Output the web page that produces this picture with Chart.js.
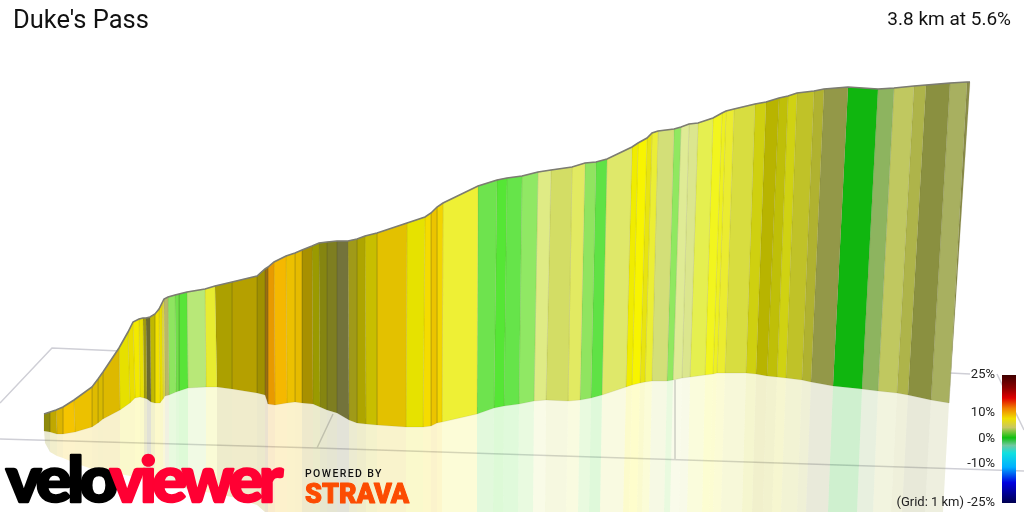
<!DOCTYPE html>
<html>
<head>
<meta charset="utf-8">
<title>Duke's Pass</title>
<script src="https://cdn.jsdelivr.net/npm/chart.js@4/dist/chart.umd.min.js"></script>
<style>
  html, body { margin: 0; padding: 0; background: #fff; overflow: hidden; }
  #wrap { width: 1024px; height: 512px; }
</style>
</head>
<body>
<div id="wrap"><canvas id="profile" width="1024" height="512"></canvas></div>
<script>
// Ribbon stations, left to right (projected plot units)
const ridgeX = [44,50,56,63,74,92,98,103,119,128,133,139,143,146,150,155,159,162,164,168,175,179,187,205,215,232,257,265,268,274,286,295,302,312,319,327,337,348,357,365,377,407,425,431,437,443,478,497,507,522,538,551,572,585,596,607,632,638,647,652,658,674,681,689,698,713,722,726,734,755,766,779,788,797,814,824,848,878,894,914,926,950,967,970];
const ridgeY = [414,412,410,407,400,387,379,372,348,332,322,319,318,318,317,314,309,303,299,297,295,294,292,289,286,282,276,269,267,262,256,253,250,246,243,242,241,241,239,236,233,223,217,213,207,203,186,180,178,176,172,170,167,163,162,159,147,143,138,133,131,129,127,124,123,118,113,111,109,104,102,98,96,93,91,89,87,89,88,86,85,83,82,82];
const baseX = [44,50,57,63,75,92,98,103,120,130,135,140,144,147,151,155,160,163,165,169,176,179,188,206,217,232,257,265,268,275,287,295,302,313,320,327,337,349,357,366,377,406,423,431,437,442,477,494,504,519,534,546,568,580,591,602,626,632,640,645,652,667,673,682,690,705,713,717,725,746,756,767,777,786,802,811,833,862,878,897,908,931,949,949];
const baseY = [431,432,434,434,432,427,423,419,410,403,398,397,398,399,402,403,403,399,396,395,392,391,388,387,387,389,393,395,404,405,403,402,403,404,407,410,413,420,423,424,425,427,427,426,423,422,414,408,406,404,401,400,401,400,398,395,387,385,383,382,381,381,380,378,377,375,374,373,373,373,374,376,377,378,380,382,386,389,391,393,395,400,403,403];
// Lower edge of the pale reflection under the ribbon
const mirrorX = [45,50,57,63,75,92,98,103,120,130,135,140,144,147,151,155,160,163,165,169,176,179,188,206,217,232,257,265,268,275,287,295,302,313,320,327,337,349,357,366,377,406,423,431,437,442,477,493,503,518,533,545,566,578,589,600,623,629,637,642,649,664,670,679,687,702,709,713,721,742,752,763,772,781,797,806,828,857,873,891,902,925,943,943];
const mirrorY = [443,452,456,458,463,469,470,471,474,476,477,478,479,480,481,482,483,484,484,485,486,487,489,492,494,497,505,512,512,512,512,512,512,512,512,512,512,512,512,512,512,512,512,512,512,512,512,512,512,512,512,512,512,512,512,512,512,512,512,512,512,512,512,512,512,512,512,512,512,512,512,512,512,512,512,512,512,512,512,512,512,512,512,512];
// Strip colour between a station and the next one
const gradientColors = ['#8e8a0c','#c0a800','#ddb500','#f5c400','#ecc100','#dfbb00','#d9ba00','#ddb900','#e6e000','#eade00','#f3e900','#e8e000','#a09a10','#6b6a30','#c0b800','#f0e000','#e8dd00','#dfd840','#b9b868','#8ee560','#70e04a','#58e438','#b8e878','#e8ec30','#aca000','#b5a000','#a09000','#9a6e10','#e89a00','#f5b800','#ecc000','#e6bb00','#a89000','#9a9a00','#858510','#7e7e20','#73733b','#a09a18','#aea500','#c8be00','#e3c100','#e6e200','#f5dc00','#ecc400','#f3d500','#eef035','#6ee34e','#55e635','#66e44a','#90e864','#dfeb85','#d3dd65','#e2ea62','#90e460','#5fe245','#dfe86a','#f0ec00','#f8f400','#e8e410','#ebee35','#d3df78','#90e860','#dfeb95','#dbe68e','#e5ef50','#f2f51e','#eef020','#ebec30','#d8dd40','#cfd010','#b8b400','#bfbf08','#d0d212','#c0c228','#b0b230','#939848','#10b60f','#8db45f','#c0c860','#aeb44a','#8a9040','#a8b060','#8a8c48'];

// Floor grid lines
const gridBack = [[0,403],[52,348],[120,351]];
const gridFront = [[0,439],[317,448],[1024,471]];
const gridSide = [[317,448],[333,414]];
const gridCross = [[675,380],[675,460]];
const gridRight = [[950,373],[970,374]];
const gridRightEnd = [[997,374],[1024,430]];

// Colour key
const keyBox = [[1002,375],[1016,375],[1016,503],[1002,503],[1002,375]];
const keyStops = [0,0.1,0.18,0.26,0.34,0.41,0.49,0.55,0.61,0.72,0.84,1];
const keyColors = ['#3f0000','#8a0000','#e00000','#f08000','#f0e000','#c8c860','#10c010','#70c8a0','#10e0e0','#00b0ff','#0000e0','#000050'];
const keyLabels = ['25%','10%','0%','-10%','(Grid: 1 km) -25%'];
const keyLabelY = [375,413,439,464,503];

const titleText = "Duke's Pass";
const statText = '3.8 km at 5.6%';

const ctx = document.getElementById('profile').getContext('2d');
const keyFill = ctx.createLinearGradient(0, 375, 0, 503);
keyStops.forEach((s, i) => keyFill.addColorStop(s, keyColors[i]));

function toPoints(xs, ys) {
    return xs.map((x, i) => ({ x: x, y: ys[i] }));
}

function pairs(list) {
    return list.map(p => ({ x: p[0], y: p[1] }));
}

function polyline(points, color, width, order) {
    return { data: points, borderColor: color, borderWidth: width, showLine: true, fill: false, pointRadius: 0, order: order };
}

function polygon(points, fillColor, edgeColor, order) {
    return { data: points, backgroundColor: fillColor, borderColor: edgeColor, borderWidth: 1, showLine: true, fill: 'shape', pointRadius: 0, order: order };
}

const datasets = [];

[gridBack, gridFront, gridSide, gridRight, gridRightEnd].forEach(g => {
    datasets.push(polyline(pairs(g), '#cfcfd6', 1.5, 5));
});
datasets.push(polyline(pairs(gridCross), '#cfcfd6', 1, 5));

gradientColors.forEach((color, i) => {
    // reflection first, it sits under the ribbon
    datasets.push(polygon([
        { x: baseX[i], y: baseY[i] },
        { x: baseX[i + 1], y: baseY[i + 1] },
        { x: mirrorX[i + 1], y: mirrorY[i + 1] },
        { x: mirrorX[i], y: mirrorY[i] },
        { x: baseX[i], y: baseY[i] }
    ], color + '33', 'rgba(0,0,0,0)', 4));

    datasets.push(polygon([
        { x: ridgeX[i], y: ridgeY[i] },
        { x: ridgeX[i + 1], y: ridgeY[i + 1] },
        { x: baseX[i + 1], y: baseY[i + 1] },
        { x: baseX[i], y: baseY[i] },
        { x: ridgeX[i], y: ridgeY[i] }
    ], color, 'rgba(90,90,40,0.1)', 3));
});

datasets.push(polyline(toPoints(ridgeX, ridgeY), '#7c7c72', 1.6, 2));
datasets.push(polygon(pairs(keyBox), keyFill, 'rgba(0,0,0,0)', 1));

function heavyText(c, text, x, y, scaleX, weight) {
    c.save();
    c.translate(x, y);
    c.scale(scaleX, 1);
    c.lineWidth = weight;
    c.lineJoin = 'round';
    c.strokeStyle = c.fillStyle;
    c.strokeText(text, 0, 0);
    c.fillText(text, 0, 0);
    c.restore();
}

// Title, key labels and the two logos are plain text on top of the chart
const captionPlugin = {
    id: 'captions',
    afterDraw(chart) {
        const c = chart.ctx;
        c.save();
        c.textBaseline = 'alphabetic';
        c.fillStyle = '#111';
        c.textAlign = 'left';
        c.font = '25.5px Roboto';
        c.fillText(titleText, 13, 28);
        c.textAlign = 'right';
        c.font = '19px Roboto';
        c.fillText(statText, 1011, 25);

        c.font = '13px Roboto';
        c.fillStyle = '#222';
        c.textBaseline = 'middle';
        keyLabels.forEach((label, i) => c.fillText(label, 995, keyLabelY[i]));

        c.textAlign = 'left';
        c.textBaseline = 'alphabetic';
        c.font = '900 62px Lato';
        c.letterSpacing = '-4px';
        c.fillStyle = '#000';
        heavyText(c, 'velo', 6, 502, 1.07, 2.5);
        c.fillStyle = '#ff0033';
        heavyText(c, 'viewer', 110, 502, 1.03, 2.5);

        c.letterSpacing = '1.4px';
        c.font = '500 10.5px Roboto';
        c.fillStyle = '#111';
        c.fillText('POWERED BY', 305, 477);
        c.letterSpacing = '0px';
        c.font = '900 27px Roboto';
        c.fillStyle = '#fc4c02';
        heavyText(c, 'STRAVA', 305, 503, 1, 1);
        c.restore();
    }
};

new Chart(ctx, {
    type: 'scatter',
    data: { datasets: datasets },
    plugins: [captionPlugin],
    options: {
        responsive: false,
        animation: false,
        layout: { padding: 0 },
        plugins: { legend: { display: false }, tooltip: { enabled: false } },
        elements: { line: { tension: 0 } },
        scales: {
            x: { type: 'linear', min: 0, max: 1024, display: false },
            y: { type: 'linear', min: 0, max: 512, reverse: true, display: false }
        }
    }
});
</script>
</body>
</html>
